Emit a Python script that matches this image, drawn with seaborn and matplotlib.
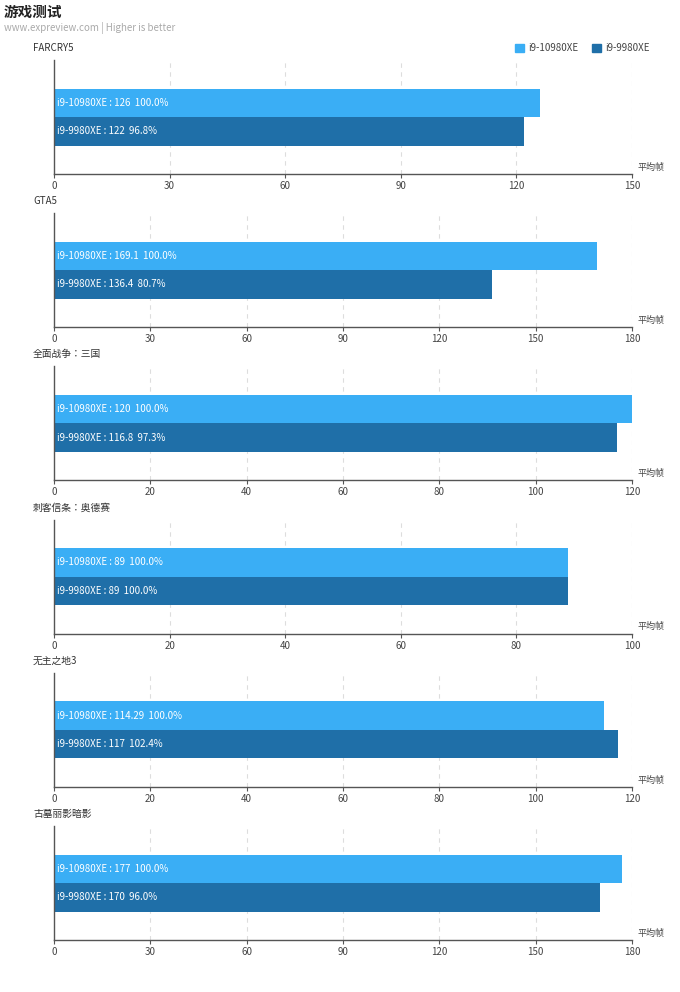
import matplotlib
matplotlib.use("Agg")
import matplotlib.pyplot as plt
from matplotlib import font_manager
import seaborn as sns
import pandas as pd
import numpy as np

names = sorted({f.name for f in font_manager.fontManager.ttflist})
cjk = [n for n in names if "CJK" in n]
pref = [n for n in ["Noto Sans CJK SC", "Noto Sans CJK JP", "Noto Sans CJK TC", "Noto Sans CJK KR"] if n in cjk] + cjk
plt.rcParams["font.family"] = "sans-serif"
plt.rcParams["font.sans-serif"] = pref + ["DejaVu Sans"]

games = ["FARCRY5", "GTA5", "全面战争：三国", "刺客信条：奥德赛", "无主之地3", "古墓丽影暗影"]
cpus = ["i9-10980XE", "i9-9980XE"]
v10980 = [126, 169.1, 120, 89, 114.29, 177]
v9980 = [122, 136.4, 116.8, 89, 117, 170]
pct10980 = ["100.0%", "100.0%", "100.0%", "100.0%", "100.0%", "100.0%"]
pct9980 = ["96.8%", "80.7%", "97.3%", "100.0%", "102.4%", "96.0%"]
xmax = [150, 180, 120, 100, 120, 180]
xstep = [30, 30, 20, 20, 20, 30]

colors = ["#3aaef5", "#1f6fa8"]
W, H = 680, 992
fig = plt.figure(figsize=(W / 100, H / 100), dpi=100)
fig.patch.set_facecolor("white")

fig.text(4 / W, 1 - 12 / H, "游戏测试", fontsize=10.5, fontweight="bold", color="#222222", va="center")
fig.text(4 / W, 1 - 28 / H, "www.expreview.com | Higher is better", fontsize=7, color="#aaaaaa", va="center")

for i, (c, lx) in enumerate(zip(cpus, [515, 592])):
    fig.patches.append(plt.Rectangle((lx / W, 1 - 52 / H), 9 / W, 8 / H, color=colors[i], transform=fig.transFigure))
    fig.text((lx + 13) / W, 1 - 48 / H, c, fontsize=7, color="#444444", va="center")

left, right = 54, 632
for k, g in enumerate(games):
    bottom = 174 + 153.2 * k
    top = bottom - 114
    ax = fig.add_axes([left / W, 1 - bottom / H, (right - left) / W, (bottom - top) / H])
    df = pd.DataFrame({"game": [g, g], "cpu": cpus, "value": [v10980[k], v9980[k]]})
    sns.barplot(data=df, x="value", y="game", hue="cpu", orient="h", palette=colors,
                width=0.5, ax=ax, legend=False, saturation=1)
    ax.set_xlim(0, xmax[k])
    ax.set_ylim(0.5, -0.5)
    ticks = np.arange(0, xmax[k] + 0.1, xstep[k])
    ax.set_xticks(ticks)
    ax.set_xticklabels([str(int(t)) for t in ticks], fontsize=7, color="#444444")
    ax.set_yticks([])
    ax.set_xlabel("")
    ax.set_ylabel("")
    for t in ticks[1:]:
        ax.axvline(t, color="#dddddd", ls=(0, (4, 4)), lw=0.8, zorder=0)
    for s in ["top", "right"]:
        ax.spines[s].set_visible(False)
    for s in ["left", "bottom"]:
        ax.spines[s].set_color("#555555")
        ax.spines[s].set_linewidth(1)
    ax.tick_params(axis="x", length=3, color="#555555", pad=2)
    ax.set_facecolor("white")
    for p, (c, v, pc) in zip(ax.patches, zip(cpus, [v10980[k], v9980[k]], [pct10980[k], pct9980[k]])):
        yc = p.get_y() + p.get_height() / 2
        ax.text(xmax[k] * 0.006, yc, f"{c} : {v:g}  {pc}", color="white", fontsize=7, va="center")
    ax.text(1.01, 0.02, "平均帧", transform=ax.transAxes, fontsize=6.5, color="#444444", ha="left", va="bottom")
    fig.text(33 / W, 1 - (top - 12) / H, g, fontsize=7, color="#333333", va="center")

fig.savefig("out.png", dpi=100, facecolor="white")
